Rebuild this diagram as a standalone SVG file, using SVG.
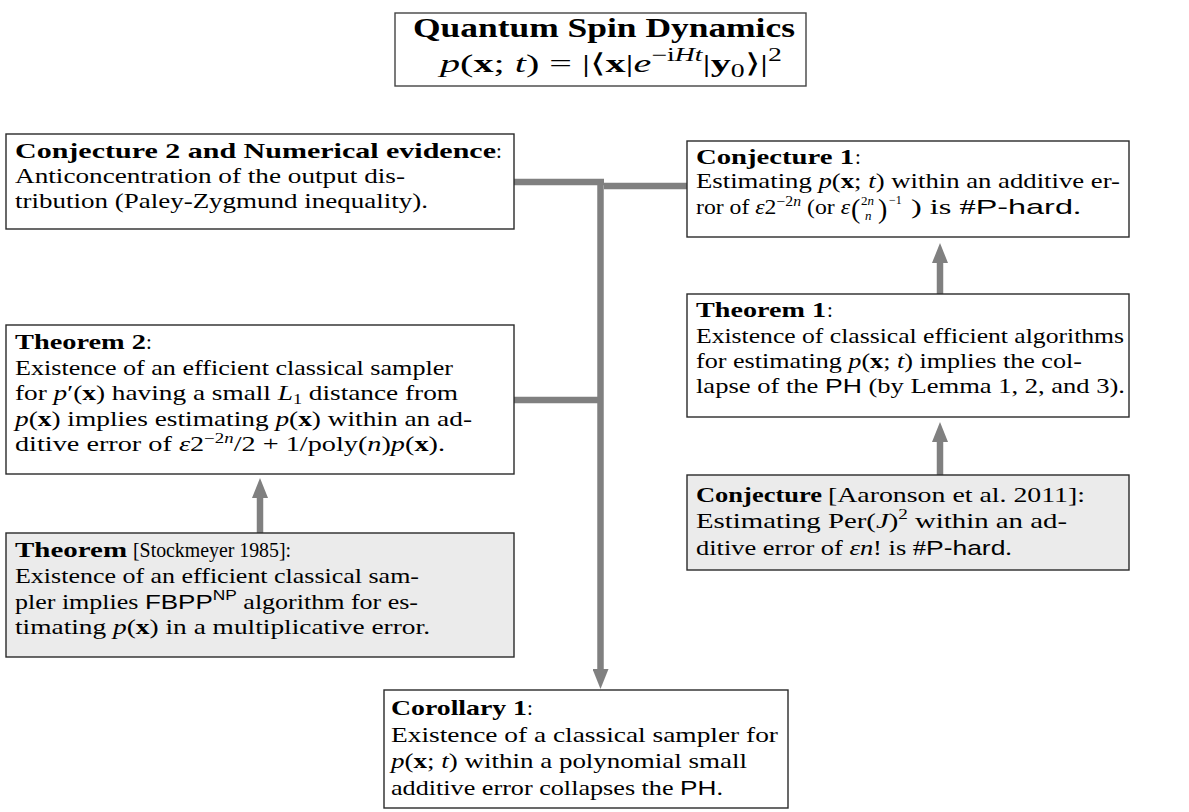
<svg xmlns="http://www.w3.org/2000/svg" width="1189" height="812" viewBox="0 0 1189 812">
<style>
.box{fill:#ffffff;stroke:#2a2a2a;stroke-width:1.4}
.gbox{fill:#ebebeb;stroke:#2a2a2a;stroke-width:1.4}
.t{font-family:"Liberation Serif",serif;font-size:21px;fill:#000}
.b{font-family:"Liberation Serif",serif;font-size:21px;font-weight:bold;fill:#000}
.i{font-style:italic}
.bx{font-weight:bold}
.s{font-family:"Liberation Sans",sans-serif}
.sup{font-size:14px}
.con{stroke:#808080;stroke-width:6.5;fill:none}
</style>
<defs>
<marker id="ah" markerUnits="userSpaceOnUse" markerWidth="20" markerHeight="16" refX="5" refY="8" orient="auto">
<path d="M0,0 L20,8 L0,16 z" fill="#808080"/>
</marker>
</defs>

<g id="connectors">
<line class="con" x1="514" y1="182" x2="604" y2="182"/>
<line class="con" x1="604" y1="186" x2="687" y2="186"/>
<line class="con" x1="514" y1="400" x2="600" y2="400"/>
<line class="con" x1="600.5" y1="179" x2="600.5" y2="674" marker-end="url(#ah)"/>
<line class="con" x1="940" y1="294" x2="940" y2="258" marker-end="url(#ah)"/>
<line class="con" x1="940" y1="475" x2="940" y2="437" marker-end="url(#ah)"/>
<line class="con" x1="260" y1="533" x2="260" y2="493" marker-end="url(#ah)"/>
</g>

<g id="title">
<rect class="box" x="395" y="13" width="411" height="73" style="stroke:#444"/>
<text class="b" x="413" y="37" style="font-size:27px" textLength="382" lengthAdjust="spacingAndGlyphs">Quantum Spin Dynamics</text>
<text class="t" x="440" y="72" style="font-size:26px" textLength="342" lengthAdjust="spacingAndGlyphs"><tspan class="i">p</tspan>(<tspan class="bx">x</tspan>; <tspan class="i">t</tspan>) = |⟨<tspan class="bx">x</tspan>|<tspan class="i">e</tspan><tspan dy="-11" style="font-size:18px">−i<tspan class="i">Ht</tspan></tspan><tspan dy="11">|</tspan><tspan class="bx">y</tspan><tspan dy="5" style="font-size:18px">0</tspan><tspan dy="-5">⟩|</tspan><tspan dy="-11" style="font-size:18px">2</tspan></text>
</g>

<g id="conjecture2">
<rect class="box" x="6" y="134" width="508" height="95"/>
<text class="b" x="15" y="158" textLength="481" lengthAdjust="spacingAndGlyphs">Conjecture 2 and Numerical evidence</text>
<text class="t" x="496" y="158">:</text>
<text class="t" x="15" y="183" textLength="390" lengthAdjust="spacingAndGlyphs">Anticoncentration of the output dis-</text>
<text class="t" x="15" y="208" textLength="413" lengthAdjust="spacingAndGlyphs">tribution (Paley-Zygmund inequality).</text>
</g>

<g id="conjecture1">
<rect class="box" x="687" y="141" width="442" height="96"/>
<text class="b" x="696" y="164" textLength="158" lengthAdjust="spacingAndGlyphs">Conjecture 1</text>
<text class="t" x="855" y="164">:</text>
<text class="t" x="696" y="188" textLength="424" lengthAdjust="spacingAndGlyphs">Estimating <tspan class="i">p</tspan>(<tspan class="bx">x</tspan>; <tspan class="i">t</tspan>) within an additive er-</text>
<text class="t" x="696" y="214" textLength="154" lengthAdjust="spacingAndGlyphs">ror of <tspan class="i">ε</tspan>2<tspan dy="-8" class="sup">−2<tspan class="i">n</tspan></tspan><tspan dy="8"> (or </tspan><tspan class="i">ε</tspan></text>
<text class="t" x="851" y="218" style="font-size:28px">(</text>
<text class="t" x="861" y="205" style="font-size:13px">2<tspan class="i">n</tspan></text>
<text class="t i" x="865" y="220" style="font-size:13px">n</text>
<text class="t" x="878" y="218" style="font-size:28px">)</text>
<text class="t" x="889" y="204" style="font-size:12px">−1</text>
<text class="t" x="911" y="214" textLength="170" lengthAdjust="spacingAndGlyphs">) is #<tspan class="s">P-hard</tspan>.</text>
</g>

<g id="theorem1">
<rect class="box" x="687" y="294" width="442" height="123"/>
<text class="b" x="696" y="317" textLength="130" lengthAdjust="spacingAndGlyphs">Theorem 1</text>
<text class="t" x="827" y="317">:</text>
<text class="t" x="696" y="343" textLength="428" lengthAdjust="spacingAndGlyphs">Existence of classical efficient algorithms</text>
<text class="t" x="696" y="368" textLength="386" lengthAdjust="spacingAndGlyphs">for estimating <tspan class="i">p</tspan>(<tspan class="bx">x</tspan>; <tspan class="i">t</tspan>) implies the col-</text>
<text class="t" x="696" y="393" textLength="429" lengthAdjust="spacingAndGlyphs">lapse of the <tspan class="s">PH</tspan> (by Lemma 1, 2, and 3).</text>
</g>

<g id="conjecture-aaronson">
<rect class="gbox" x="687" y="475" width="442" height="95"/>
<text class="b" x="696" y="502" textLength="126" lengthAdjust="spacingAndGlyphs">Conjecture</text>
<text class="t" x="828" y="502" textLength="257" lengthAdjust="spacingAndGlyphs">[Aaronson et al. 2011]:</text>
<text class="t" x="696" y="528" textLength="371" lengthAdjust="spacingAndGlyphs">Estimating Per(<tspan class="i">J</tspan>)<tspan dy="-9" class="sup">2</tspan><tspan dy="9"> within an ad-</tspan></text>
<text class="t" x="696" y="555" textLength="316" lengthAdjust="spacingAndGlyphs">ditive error of <tspan class="i">εn</tspan>! is #<tspan class="s">P-hard</tspan>.</text>
</g>

<g id="theorem2">
<rect class="box" x="6" y="325" width="508" height="149"/>
<text class="b" x="15" y="349" textLength="131" lengthAdjust="spacingAndGlyphs">Theorem 2</text>
<text class="t" x="146" y="349">:</text>
<text class="t" x="15" y="375" textLength="438" lengthAdjust="spacingAndGlyphs">Existence of an efficient classical sampler</text>
<text class="t" x="15" y="400" textLength="443" lengthAdjust="spacingAndGlyphs">for <tspan class="i">p</tspan>′(<tspan class="bx">x</tspan>) having a small <tspan class="i">L</tspan><tspan dy="4" class="sup">1</tspan><tspan dy="-4"> distance from</tspan></text>
<text class="t" x="15" y="426" textLength="457" lengthAdjust="spacingAndGlyphs"><tspan class="i">p</tspan>(<tspan class="bx">x</tspan>) implies estimating <tspan class="i">p</tspan>(<tspan class="bx">x</tspan>) within an ad-</text>
<text class="t" x="15" y="451" textLength="430" lengthAdjust="spacingAndGlyphs">ditive error of <tspan class="i">ε</tspan>2<tspan dy="-8" class="sup">−2<tspan class="i">n</tspan></tspan><tspan dy="8">/2 + 1/poly(</tspan><tspan class="i">n</tspan>)<tspan class="i">p</tspan>(<tspan class="bx">x</tspan>).</text>
</g>

<g id="theorem-stockmeyer">
<rect class="gbox" x="6" y="533" width="508" height="124"/>
<text class="b" x="15" y="557" textLength="112" lengthAdjust="spacingAndGlyphs">Theorem</text>
<text class="t" x="133" y="557" textLength="158" lengthAdjust="spacingAndGlyphs">[Stockmeyer 1985]:</text>
<text class="t" x="15" y="583" textLength="404" lengthAdjust="spacingAndGlyphs">Existence of an efficient classical sam-</text>
<text class="t" x="15" y="609" textLength="403" lengthAdjust="spacingAndGlyphs">pler implies <tspan class="s">FBPP</tspan><tspan dy="-9" class="sup s">NP</tspan><tspan dy="9"> algorithm for es-</tspan></text>
<text class="t" x="15" y="634" textLength="415" lengthAdjust="spacingAndGlyphs">timating <tspan class="i">p</tspan>(<tspan class="bx">x</tspan>) in a multiplicative error.</text>
</g>

<g id="corollary1">
<rect class="box" x="384" y="690" width="404" height="118"/>
<text class="b" x="391" y="715" textLength="136" lengthAdjust="spacingAndGlyphs">Corollary 1</text>
<text class="t" x="527" y="715">:</text>
<text class="t" x="391" y="742" textLength="387" lengthAdjust="spacingAndGlyphs">Existence of a classical sampler for</text>
<text class="t" x="391" y="768" textLength="356" lengthAdjust="spacingAndGlyphs"><tspan class="i">p</tspan>(<tspan class="bx">x</tspan>; <tspan class="i">t</tspan>) within a polynomial small</text>
<text class="t" x="391" y="795" textLength="332" lengthAdjust="spacingAndGlyphs">additive error collapses the <tspan class="s">PH</tspan>.</text>
</g>
</svg>
